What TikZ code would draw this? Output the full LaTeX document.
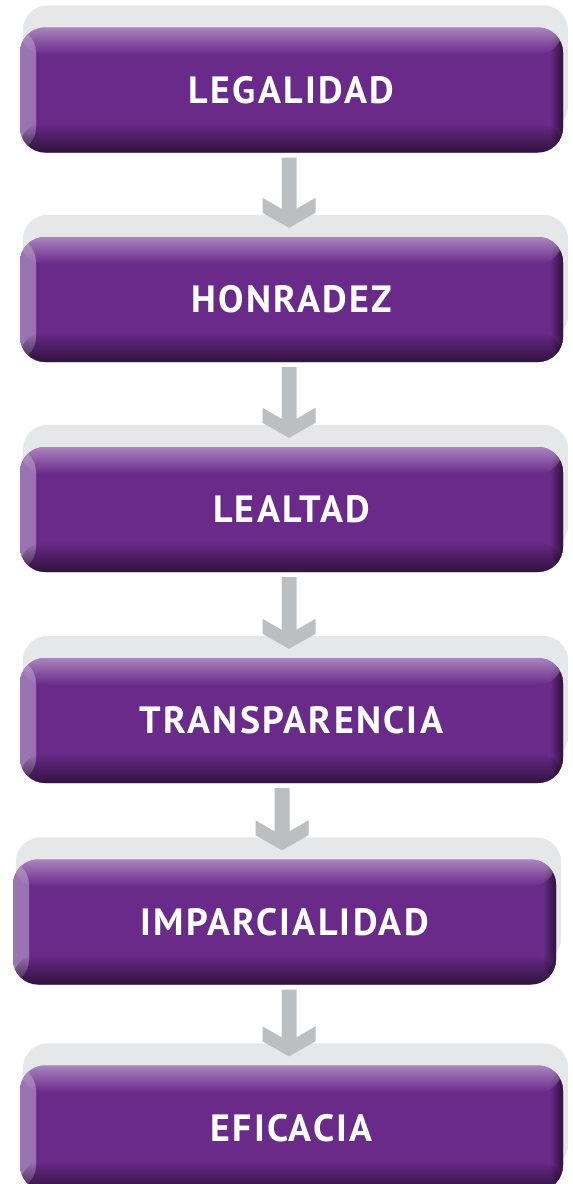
\documentclass[tikz,border=0pt]{standalone}
\usepackage{fontspec}
\newfontfamily\rotulo{PT Sans}[LetterSpace=6]
\usetikzlibrary{calc, fadings, backgrounds}
\definecolor{morado}{HTML}{6A2A8A}
\definecolor{lila}{HTML}{BFA2D0}
\definecolor{lilaosc}{HTML}{9B74B2}
\definecolor{oscuro}{HTML}{1E0B25}
\definecolor{oscurolado}{HTML}{2E1339}
\definecolor{grisfondo}{HTML}{E6E7E8}
\definecolor{grisflecha}{HTML}{BCBEC0}
% side bands are shaded, top and bottom bands fade over them
\tikzstyle{caja} = [fill=morado, rounded corners=25pt, minimum width=543pt, minimum height=125pt, inner sep=0pt, text=white, font=\rotulo\bfseries\fontsize{38}{40}\selectfont,
  path picture={
    \shade[left color=lilaosc, right color=morado] (path picture bounding box.south west) rectangle ([xshift=16pt]path picture bounding box.north west);
    \shade[left color=morado, right color=oscurolado] ([xshift=-13pt]path picture bounding box.south east) rectangle (path picture bounding box.north east);
    \fill[lila, path fading=south] ([yshift=9pt]path picture bounding box.north west) rectangle ([yshift=-27pt]path picture bounding box.north east);
    \fill[oscuro, path fading=north] ([yshift=-10pt]path picture bounding box.south west) rectangle ([yshift=30pt]path picture bounding box.south east);
  }]
\tikzstyle{fondo} = [fill=grisfondo, rounded corners=25pt]
\tikzstyle{flecha} = [fill=grisflecha]
\newcommand{\valor}[2]{
node (v#1) [caja] {#2}}
\newcommand{\flecha}[2]{
  \fill [flecha] let \p1=(#1.south), \p2=(#2.north) in
    (\x2-10pt, \y1-5pt) -- (\x2-10pt, \y2+28pt) -- (\x2-29pt, \y2+39pt) -- (\x2-29pt, \y2+24pt)
    -- (\x2-2.5pt, \y2+9pt) -- (\x2+24pt, \y2+24pt) -- (\x2+24pt, \y2+39pt) -- (\x2+5pt, \y2+28pt)
    -- (\x2+5pt, \y1-5pt) -- cycle;}

\begin{document}
\begin{tikzpicture}[x=1pt, y=-1pt]
	\useasboundingbox (0,0) rectangle (573,1184);

	% Draw diagram elements
	\path (291.5, 90) \valor{1}{LEGALIDAD};
	\path (291.5, 299.5) \valor{2}{HONRADEZ};
	\path (291.5, 509.5) \valor{3}{LEALTAD};
	\path (291.5, 720.5) \valor{4}{TRANSPARENCIA};
	\path (284.5, 922) \valor{5}{IMPARCIALIDAD};
	\path (291.5, 1128) \valor{6}{EFICACIA};

	% Grey plates behind the boxes
	\begin{scope}[on background layer]
		\foreach \i in {1,...,6}
			\fill [fondo] ([xshift=3pt, yshift=22pt]v\i.south west) rectangle ([xshift=5pt, yshift=22pt]v\i.north east);
	\end{scope}

	% Draw arrows between elements
	\foreach \a/\b in {1/2, 2/3, 3/4, 4/5, 5/6}
		\flecha{v\a}{v\b};

\end{tikzpicture}
\end{document}
